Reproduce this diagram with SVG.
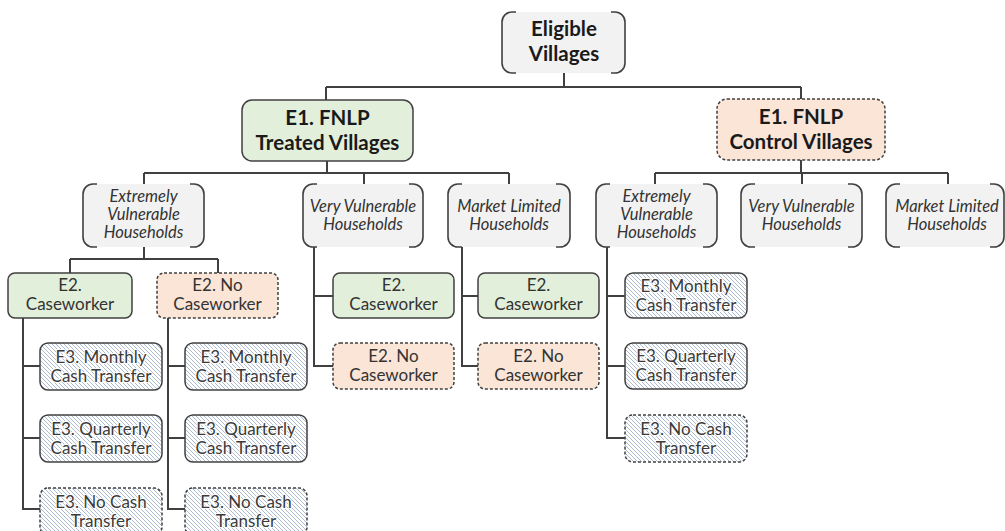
<svg xmlns="http://www.w3.org/2000/svg" width="1005" height="531" viewBox="0 0 1005 531">
<defs>
<pattern id="hatch" patternUnits="userSpaceOnUse" width="4" height="4">
<rect width="4" height="4" fill="#ffffff"/>
<path d="M0,0 L4,4 M-1,3 L1,5 M3,-1 L5,1" stroke="#a3b3cb" stroke-width="0.9"/>
</pattern>
<style>
.conn{fill:none;stroke:#404040;stroke-width:2}
.hh{fill:#f2f2f2;stroke:none}
.br{fill:none;stroke:#404040;stroke-width:1.6}
.green{fill:#e2efda;stroke:#404040;stroke-width:1.5}
.orange{fill:#fbe5d6;stroke:#404040;stroke-width:1.5;stroke-dasharray:3 2}
.hatch{fill:url(#hatch);stroke:#404040;stroke-width:1.5}
.hatchd{fill:url(#hatch);stroke:#404040;stroke-width:1.5;stroke-dasharray:3 2}
text{font-family:Lato,"Noto Sans",sans-serif;text-anchor:middle}
.t1{font-weight:bold;font-size:20.5px;fill:#1a1a1a}
.t2{font-size:17px;fill:#333333}
.t3{font-size:17px;fill:#3a3a3a;paint-order:stroke;stroke:#ffffff;stroke-width:2px;stroke-linejoin:round}
.ti{font-style:italic;font-size:16.5px;fill:#333333}
</style>
</defs>
<rect width="1005" height="531" fill="#ffffff"/>

<g id="connectors">
<path class="conn" d="M564,73 V87 M326,87 H801 M326,87 V100 M801,87 V99"/>
<path class="conn" d="M327,161 V173 M144,173 H509 M144,173 V184 M364,173 V184 M509,173 V184"/>
<path class="conn" d="M801,160 V173 M655,173 H948 M655,173 V184 M802,173 V184 M948,173 V184"/>
<path class="conn" d="M144,247 V259 M70,259 H218 M70,259 V273 M218,259 V273"/>
<path class="conn" d="M23,318 V509 H40 M23,366 H40 M23,438 H40"/>
<path class="conn" d="M168,318 V509 H185 M168,366 H185 M168,438 H185"/>
<path class="conn" d="M314,247 V366 H333 M314,296 H333"/>
<path class="conn" d="M462,247 V366 H478 M462,296 H478"/>
<path class="conn" d="M607,247 V438 H625 M607,296 H625 M607,366 H625"/>
</g>

<g id="eligible">
<rect class="hh" x="502" y="12" width="123" height="61" rx="10"/>
<path class="br" d="M516,12 H512 A10 10 0 0 0 502 22 V63 A10 10 0 0 0 512 73 H516 M611,12 H615 A10 10 0 0 1 625 22 V63 A10 10 0 0 1 615 73 H611"/>
<text class="t1" x="564" y="36">Eligible</text>
<text class="t1" x="564" y="61">Villages</text>
</g>

<g id="e1-treated">
<rect class="green" x="242" y="100" width="171" height="61" rx="10"/>
<text class="t1" x="327.5" y="125">E1. FNLP</text>
<text class="t1" x="327.5" y="150">Treated Villages</text>
</g>

<g id="e1-control">
<rect class="orange" x="717" y="99" width="168" height="61" rx="10"/>
<text class="t1" x="801" y="124">E1. FNLP</text>
<text class="t1" x="801" y="149">Control Villages</text>
</g>

<g id="t-ev">
<rect class="hh" x="83" y="184" width="121" height="63" rx="10"/>
<path class="br" d="M97,184 H93 A10 10 0 0 0 83 194 V237 A10 10 0 0 0 93 247 H97 M190,184 H194 A10 10 0 0 1 204 194 V237 A10 10 0 0 1 194 247 H190"/>
<text class="ti" x="143.5" y="202">Extremely</text>
<text class="ti" x="143.5" y="220">Vulnerable</text>
<text class="ti" x="143.5" y="238">Households</text>
</g>

<g id="t-vv">
<rect class="hh" x="303" y="184" width="120" height="63" rx="10"/>
<path class="br" d="M317,184 H313 A10 10 0 0 0 303 194 V237 A10 10 0 0 0 313 247 H317 M409,184 H413 A10 10 0 0 1 423 194 V237 A10 10 0 0 1 413 247 H409"/>
<text class="ti" x="363" y="212">Very Vulnerable</text>
<text class="ti" x="363" y="230">Households</text>
</g>

<g id="t-ml">
<rect class="hh" x="448" y="184" width="122" height="63" rx="10"/>
<path class="br" d="M462,184 H458 A10 10 0 0 0 448 194 V237 A10 10 0 0 0 458 247 H462 M556,184 H560 A10 10 0 0 1 570 194 V237 A10 10 0 0 1 560 247 H556"/>
<text class="ti" x="509" y="212">Market Limited</text>
<text class="ti" x="509" y="230">Households</text>
</g>

<g id="c-ev">
<rect class="hh" x="596" y="184" width="121" height="63" rx="10"/>
<path class="br" d="M610,184 H606 A10 10 0 0 0 596 194 V237 A10 10 0 0 0 606 247 H610 M703,184 H707 A10 10 0 0 1 717 194 V237 A10 10 0 0 1 707 247 H703"/>
<text class="ti" x="656.5" y="202">Extremely</text>
<text class="ti" x="656.5" y="220">Vulnerable</text>
<text class="ti" x="656.5" y="238">Households</text>
</g>

<g id="c-vv">
<rect class="hh" x="741" y="184" width="121" height="63" rx="10"/>
<path class="br" d="M755,184 H751 A10 10 0 0 0 741 194 V237 A10 10 0 0 0 751 247 H755 M848,184 H852 A10 10 0 0 1 862 194 V237 A10 10 0 0 1 852 247 H848"/>
<text class="ti" x="801.5" y="212">Very Vulnerable</text>
<text class="ti" x="801.5" y="230">Households</text>
</g>

<g id="c-ml">
<rect class="hh" x="886" y="184" width="118" height="63" rx="10"/>
<path class="br" d="M900,184 H896 A10 10 0 0 0 886 194 V237 A10 10 0 0 0 896 247 H900 M990,184 H994 A10 10 0 0 1 1004 194 V237 A10 10 0 0 1 994 247 H990"/>
<text class="ti" x="947" y="212">Market Limited</text>
<text class="ti" x="947" y="230">Households</text>
</g>

<g id="t-ev-cw">
<rect class="green" x="8" y="273" width="124" height="45" rx="7"/>
<text class="t2" x="70" y="291">E2.</text>
<text class="t2" x="70" y="310">Caseworker</text>
</g>
<g id="t-ev-nocw">
<rect class="orange" x="157" y="273" width="121" height="45" rx="7"/>
<text class="t2" x="217.5" y="291">E2. No</text>
<text class="t2" x="217.5" y="310">Caseworker</text>
</g>
<g id="t-vv-cw">
<rect class="green" x="333" y="273" width="121" height="45" rx="7"/>
<text class="t2" x="393.5" y="291">E2.</text>
<text class="t2" x="393.5" y="310">Caseworker</text>
</g>
<g id="t-vv-nocw">
<rect class="orange" x="333" y="343" width="121" height="46" rx="7"/>
<text class="t2" x="393.5" y="362">E2. No</text>
<text class="t2" x="393.5" y="381">Caseworker</text>
</g>
<g id="t-ml-cw">
<rect class="green" x="478" y="273" width="121" height="45" rx="7"/>
<text class="t2" x="538.5" y="291">E2.</text>
<text class="t2" x="538.5" y="310">Caseworker</text>
</g>
<g id="t-ml-nocw">
<rect class="orange" x="478" y="343" width="121" height="46" rx="7"/>
<text class="t2" x="538.5" y="362">E2. No</text>
<text class="t2" x="538.5" y="381">Caseworker</text>
</g>

<g id="cw-monthly">
<rect class="hatch" x="40" y="343" width="122" height="47" rx="8"/>
<text class="t3" x="101" y="363">E3. Monthly</text>
<text class="t3" x="101" y="382">Cash Transfer</text>
</g>
<g id="cw-quarterly">
<rect class="hatch" x="40" y="415" width="122" height="47" rx="8"/>
<text class="t3" x="101" y="435">E3. Quarterly</text>
<text class="t3" x="101" y="454">Cash Transfer</text>
</g>
<g id="cw-nocash">
<rect class="hatchd" x="40" y="488" width="122" height="47" rx="8"/>
<text class="t3" x="101" y="508">E3. No Cash</text>
<text class="t3" x="101" y="527">Transfer</text>
</g>

<g id="nocw-monthly">
<rect class="hatch" x="185" y="343" width="122" height="47" rx="8"/>
<text class="t3" x="246" y="363">E3. Monthly</text>
<text class="t3" x="246" y="382">Cash Transfer</text>
</g>
<g id="nocw-quarterly">
<rect class="hatch" x="185" y="415" width="122" height="47" rx="8"/>
<text class="t3" x="246" y="435">E3. Quarterly</text>
<text class="t3" x="246" y="454">Cash Transfer</text>
</g>
<g id="nocw-nocash">
<rect class="hatchd" x="185" y="488" width="122" height="47" rx="8"/>
<text class="t3" x="246" y="508">E3. No Cash</text>
<text class="t3" x="246" y="527">Transfer</text>
</g>

<g id="c-monthly">
<rect class="hatch" x="625" y="273" width="122" height="45" rx="8"/>
<text class="t3" x="686" y="292">E3. Monthly</text>
<text class="t3" x="686" y="311">Cash Transfer</text>
</g>
<g id="c-quarterly">
<rect class="hatch" x="625" y="343" width="122" height="46" rx="8"/>
<text class="t3" x="686" y="362">E3. Quarterly</text>
<text class="t3" x="686" y="381">Cash Transfer</text>
</g>
<g id="c-nocash">
<rect class="hatchd" x="625" y="415" width="122" height="47" rx="8"/>
<text class="t3" x="686" y="435">E3. No Cash</text>
<text class="t3" x="686" y="454">Transfer</text>
</g>
</svg>
